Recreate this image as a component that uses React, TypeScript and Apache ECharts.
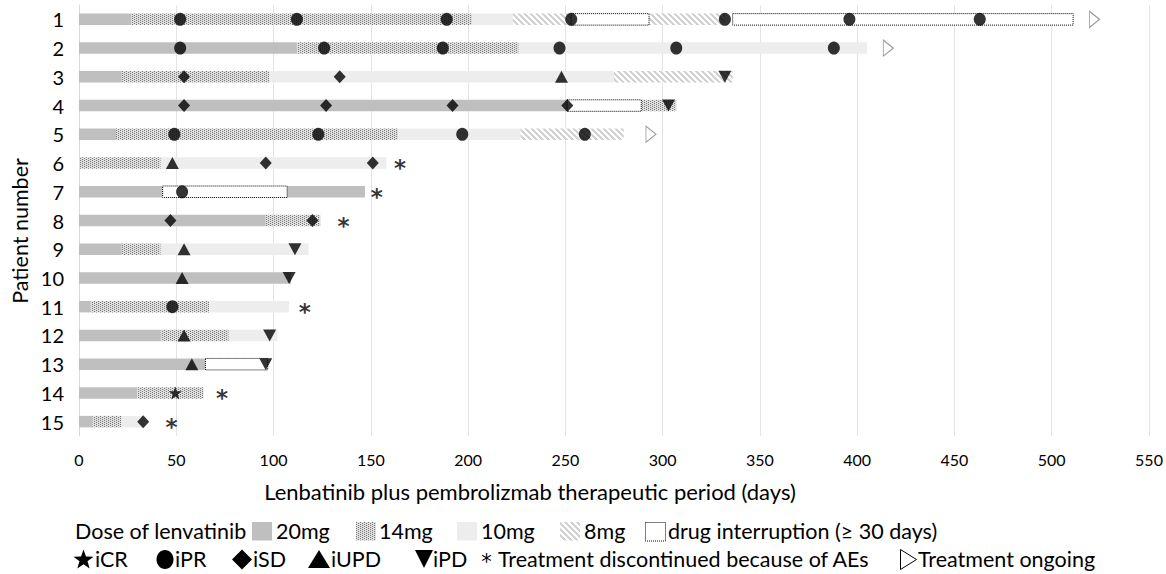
import React, { useEffect, useRef } from 'react';
import * as echarts from 'echarts';

const PATIENTS = ['1', '2', '3', '4', '5', '6', '7', '8', '9', '10', '11', '12', '13', '14', '15'];
const X_MIN = 0;
const X_MAX = 550;
const X_STEP = 50;

// dose segments: [patient, startDay, endDay]
const DOSE_20MG = [[1, 0, 27], [2, 0, 112], [3, 0, 22], [4, 0, 251], [5, 0, 19], [7, 0, 43], [7, 107, 147], [8, 0, 96], [9, 0, 22], [10, 0, 109], [11, 0, 6], [12, 0, 42], [13, 0, 65], [14, 0, 30], [15, 0, 7]];
const DOSE_14MG = [[1, 27, 202], [2, 112, 226], [3, 22, 98], [4, 289, 307], [5, 19, 164], [6, 0, 42], [8, 96, 124], [9, 22, 42], [11, 6, 67], [12, 42, 77], [14, 30, 64], [15, 7, 22]];
const DOSE_10MG = [[1, 202, 223], [2, 226, 405], [3, 98, 275], [5, 164, 227], [6, 42, 158], [9, 42, 118], [11, 67, 108], [12, 77, 102], [15, 22, 33]];
const DOSE_8MG = [[1, 223, 253], [1, 293, 332], [3, 275, 336], [5, 227, 280]];
const INTERRUPTION = [[1, 253, 293], [1, 336, 511], [4, 251, 289], [7, 43, 107], [13, 65, 97]];

// response markers: [patient, day]
const ICR = [[14, 49.5]];
const IPR = [[1, 52], [1, 112], [1, 189], [1, 253], [1, 332], [1, 396], [1, 463], [2, 52], [2, 126], [2, 187], [2, 247], [2, 307], [2, 388], [5, 49], [5, 123], [5, 197], [5, 260], [7, 53], [11, 48]];
const ISD = [[3, 54], [3, 134], [4, 54], [4, 127], [4, 192], [4, 251], [6, 96], [6, 151], [8, 47], [8, 120], [15, 33]];
const IUPD = [[3, 248], [6, 48], [9, 54], [10, 53], [12, 54], [13, 58]];
const IPD = [[3, 332], [4, 303], [9, 111], [10, 108], [12, 98], [13, 96]];
const ONGOING = [[1, 522], [2, 416], [5, 294]];
const AE_STOP = [[6, 165], [7, 153], [8, 136], [11, 116], [14, 73.5], [15, 47.5]];

const FONT = 'Lato, "Noto Sans", sans-serif';
const AST_FONT = '"DejaVu Sans", sans-serif';
const STAR_PATH = 'path://M0,-10 L2.35,-3.24 L9.51,-3.09 L3.8,1.24 L5.88,8.09 L0,4 L-5.88,8.09 L-3.8,1.24 L-9.51,-3.09 L-2.35,-3.24 Z';

function makePattern(size: number, bg: string, fg: string, test: (x: number, y: number) => boolean) {
  const c = document.createElement('canvas');
  c.width = size;
  c.height = size;
  const ctx = c.getContext('2d')!;
  ctx.fillStyle = bg;
  ctx.fillRect(0, 0, size, size);
  ctx.fillStyle = fg;
  for (let y = 0; y < size; y++) {
    for (let x = 0; x < size; x++) {
      if (test(x, y)) ctx.fillRect(x, y, 1, 1);
    }
  }
  return { image: c.toDataURL(), repeat: 'repeat', imageWidth: size, imageHeight: size };
}

function starPoints(cx: number, cy: number, R: number, r: number) {
  const pts: number[][] = [];
  for (let i = 0; i < 10; i++) {
    const a = -Math.PI / 2 + (i * Math.PI) / 5;
    const rad = i % 2 === 0 ? R : r;
    pts.push([cx + rad * Math.cos(a), cy + rad * Math.sin(a)]);
  }
  return pts;
}

export default function App() {
  const ref = useRef<HTMLDivElement>(null);
  useEffect(() => {
    if (!ref.current) return;
    const chart = echarts.init(ref.current, null, { renderer: 'svg' });

    const FILL_20 = '#bfbfbf';
    const FILL_14: any = makePattern(4, '#dedede', '#7a7a7a', (x, y) => (y % 2 === 0 && x % 4 === 0) || (y % 2 === 1 && x % 4 === 2));
    const FILL_10 = '#ededed';
    const FILL_8: any = makePattern(6, '#ffffff', '#d2d2d2', (x, y) => (((x - y) % 6) + 6) % 6 < 3);

    const doseSeries = (name: string, data: number[][], style: any) => ({
      type: 'custom',
      name,
      z: 2,
      encode: { x: [1, 2], y: 0 },
      data: data.map((d) => [String(d[0]), d[1], d[2]]),
      renderItem: (params: any, api: any) => {
        const cat = api.value(0);
        const s = api.coord([api.value(1), cat]);
        const e = api.coord([api.value(2), cat]);
        const h = api.size([0, 1])[1] * 0.4;
        return {
          type: 'rect',
          shape: { x: s[0], y: s[1] - h / 2, width: e[0] - s[0], height: h },
          style,
        };
      },
    });

    const markerSeries = (name: string, data: number[][], symbol: string, size: any, rotate = 0) => ({
      type: 'scatter',
      name,
      z: 5,
      symbol,
      symbolSize: size,
      symbolRotate: rotate,
      itemStyle: { color: '#000' },
      data: data.map((d) => [d[1], String(d[0])]),
    });

    const textStyle = (text: string, x: number, y: number, size = 21.5, extra: any = {}) => ({
      type: 'text',
      x,
      y,
      style: { text, fill: '#000', fontSize: size, fontFamily: FONT, align: 'left', verticalAlign: 'middle', ...extra },
    });

    const R1 = 531;
    const R2 = 559;
    const rectY = 522;
    const rectH = 18.5;

    const graphic: any[] = [
      textStyle('Lenbatinib plus pembrolizmab therapeutic period (days)', 530, 491, 22, { align: 'center' }),
      {
        type: 'text',
        x: 20,
        y: 231,
        rotation: Math.PI / 2,
        style: { text: 'Patient number', fill: '#000', fontSize: 21.5, fontFamily: FONT, align: 'center', verticalAlign: 'middle' },
      },
      textStyle('Dose of lenvatinib', 75, R1),
      { type: 'rect', shape: { x: 252, y: rectY, width: 20, height: rectH }, style: { fill: FILL_20 } },
      textStyle('20mg', 276, R1),
      { type: 'rect', shape: { x: 356, y: rectY, width: 20, height: rectH }, style: { fill: FILL_14 } },
      textStyle('14mg', 379, R1),
      { type: 'rect', shape: { x: 457, y: rectY, width: 20, height: rectH }, style: { fill: FILL_10 } },
      textStyle('10mg', 481, R1),
      { type: 'rect', shape: { x: 560, y: rectY, width: 20, height: rectH }, style: { fill: FILL_8 } },
      textStyle('8mg', 584, R1),
      { type: 'rect', shape: { x: 645.5, y: rectY + 0.5, width: 20, height: rectH }, style: { fill: '#fff', stroke: '#000', lineWidth: 1, lineDash: [1, 1] } },
      textStyle('drug interruption (\u2265 30 days)', 668, R1),

      { type: 'polygon', shape: { points: starPoints(83.5, 560, 10.5, 4.2) }, style: { fill: '#000' } },
      textStyle('iCR', 95, R2),
      { type: 'ellipse', shape: { cx: 165, cy: R2 + 0.5, rx: 8.5, ry: 9.5 }, style: { fill: '#000' } },
      textStyle('iPR', 175, R2),
      { type: 'polygon', shape: { points: [[242, 549.5], [252, R2 + 0.5], [242, 569.5], [232, R2 + 0.5]] }, style: { fill: '#000' } },
      textStyle('iSD', 253, R2),
      { type: 'polygon', shape: { points: [[319, 550], [330, 568], [308, 568]] }, style: { fill: '#000' } },
      textStyle('iUPD', 331, R2),
      { type: 'polygon', shape: { points: [[415, 550], [433, 550], [424, 568]] }, style: { fill: '#000' } },
      textStyle('iPD', 433, R2),
      textStyle('*', 486.5, 562, 21, { align: 'center', fontFamily: AST_FONT, lineHeight: 20 }),
      textStyle('Treatment discontinued because of AEs', 498, R2),
      { type: 'polygon', shape: { points: [[900.5, 549.5], [916.5, R2 + 0.5], [900.5, 569.5]] }, style: { fill: '#fff', stroke: '#000', lineWidth: 1 } },
      textStyle('Treatment ongoing', 918, R2),
    ];

    chart.setOption({
      animation: false,
      grid: { left: 79, right: 17, top: 5, bottom: 138, containLabel: false },
      xAxis: {
        type: 'value',
        min: X_MIN,
        max: X_MAX,
        interval: X_STEP,
        axisLine: { show: false },
        axisTick: { show: false },
        axisLabel: { fontSize: 16, color: '#000', fontFamily: FONT, margin: 15 },
        splitLine: { lineStyle: { color: '#e4e4e4', width: 1 } },
      },
      yAxis: {
        type: 'category',
        data: PATIENTS,
        inverse: true,
        axisLine: { show: true, lineStyle: { color: '#d9d9d9' } },
        axisTick: { show: false },
        axisLabel: { fontSize: 20, color: '#000', fontFamily: FONT, margin: 15 },
        splitLine: { show: false },
      },
      series: [
        doseSeries('20mg', DOSE_20MG, { fill: FILL_20 }),
        doseSeries('14mg', DOSE_14MG, { fill: FILL_14 }),
        doseSeries('10mg', DOSE_10MG, { fill: FILL_10 }),
        doseSeries('8mg', DOSE_8MG, { fill: FILL_8 }),
        doseSeries('drug interruption (\u2265 30 days)', INTERRUPTION, { fill: '#fff', stroke: '#000', lineWidth: 1, lineDash: [1, 1] }),
        markerSeries('iCR', ICR, STAR_PATH, [13, 13]),
        markerSeries('iPR', IPR, 'circle', [12, 13]),
        markerSeries('iSD', ISD, 'diamond', [12, 13]),
        markerSeries('iUPD', IUPD, 'triangle', [13, 12]),
        markerSeries('iPD', IPD, 'triangle', [13, 12], 180),
        {
          type: 'scatter',
          name: 'Treatment ongoing',
          z: 5,
          symbol: 'triangle',
          symbolSize: [16, 10],
          symbolRotate: -90,
          itemStyle: { color: '#fff', borderColor: '#808080', borderWidth: 1 },
          data: ONGOING.map((d) => [d[1], String(d[0])]),
        },
        {
          type: 'scatter',
          name: 'Treatment discontinued because of AEs',
          z: 5,
          symbol: 'circle',
          symbolSize: 1,
          itemStyle: { color: 'rgba(0,0,0,0)' },
          label: {
            show: true,
            formatter: '*',
            position: 'inside',
            fontSize: 23,
            fontWeight: 'bold',
            color: '#000',
            fontFamily: AST_FONT,
            offset: [0, 5],
            textBorderWidth: 0,
            textBorderColor: 'transparent',
          },
          data: AE_STOP.map((d) => [d[1], String(d[0])]),
        },
      ],
      graphic,
    });

    return () => chart.dispose();
  }, []);

  return <div ref={ref} style={{ position: 'fixed', left: 0, top: 0, width: 1166, height: 574, background: '#fff' }} />;
}
